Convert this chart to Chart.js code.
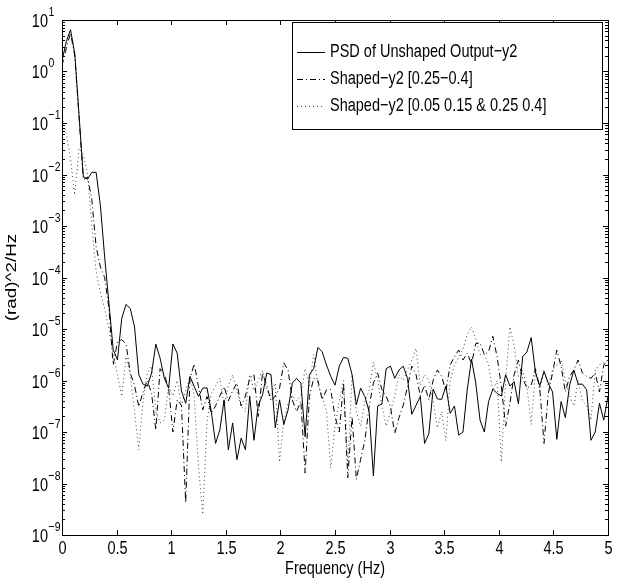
<!DOCTYPE html>
<html>
<head>
<meta charset="utf-8">
<script src="https://cdn.jsdelivr.net/npm/chart.js@4/dist/chart.umd.min.js"></script>
<style>
  html, body { margin: 0; padding: 0; background: #fff; }
  #wrap { width: 621px; height: 586px; position: relative; }
</style>
</head>
<body>
<div id="wrap"><canvas id="psdChart" width="621" height="586"></canvas></div>
<script>
// frequency bins (Hz): 129 uniform FFT bins from 0 to 5 Hz
const freqHz = Array.from({ length: 129 }, (_, i) => i * 5 / 128);

const xTicks = [0, 0.5, 1, 1.5, 2, 2.5, 3, 3.5, 4, 4.5, 5];
const xTickLabels = ['0', '0.5', '1', '1.5', '2', '2.5', '3', '3.5', '4', '4.5', '5'];
const yDecades = [-9, -8, -7, -6, -5, -4, -3, -2, -1, 0, 1];

const seriesNames = [
  'PSD of Unshaped Output\u2212y2',
  'Shaped\u2212y2 [0.25\u22120.4]',
  'Shaped\u2212y2 [0.05 0.15 & 0.25 0.4]'
];

// PSD of unshaped output
const unshaped = [
  1.6, 3.8, 6.5, 2.2, 0.14, 9.1e-3, 8.1e-3, 1.1e-2, 1.1e-2, 2.5e-3,
  2.5e-4, 3.2e-5, 4.0e-6, 2.5e-6, 1.6e-5, 3.0e-5, 2.5e-5, 1.1e-5, 1.3e-6, 8.5e-7,
  7.8e-7, 1.4e-6, 5.1e-6, 2.7e-6, 1.1e-6, 7.1e-7, 5.1e-6, 3.4e-6, 6.3e-7, 3.6e-7,
  1.2e-6, 7.6e-7, 4.9e-7, 7.1e-7, 7.2e-7, 2.5e-7, 6.0e-8, 1.1e-7, 4.2e-7, 4.5e-8,
  1.5e-7, 2.9e-8, 7.6e-8, 4.5e-8, 5.0e-7, 6.9e-8, 3.3e-7, 5.2e-7, 1.4e-6, 1.3e-6,
  1.2e-7, 4.2e-7, 1.4e-7, 2.7e-7, 8.9e-7, 1.1e-6, 8.9e-7, 8.1e-8, 1.3e-6, 1.7e-6,
  4.4e-6, 3.6e-6, 2.0e-6, 1.2e-6, 8.1e-7, 1.9e-6, 2.8e-6, 2.7e-6, 1.3e-6, 3.4e-7,
  7.1e-7, 4.9e-7, 2.5e-7, 1.4e-8, 3.2e-7, 3.5e-7, 1.7e-6, 1.9e-6, 1.1e-6, 1.6e-6,
  1.9e-6, 1.1e-6, 2.2e-7, 3.3e-7, 4.9e-7, 6.0e-8, 9.3e-8, 6.8e-7, 4.4e-7, 4.3e-7,
  7.8e-7, 2.3e-7, 3.2e-7, 8.7e-8, 1.0e-7, 6.6e-7, 2.6e-6, 8.9e-7, 1.7e-7, 1.0e-7,
  3.9e-7, 6.8e-7, 5.6e-7, 5.0e-7, 1.3e-6, 7.8e-7, 9.5e-7, 3.5e-7, 2.9e-6, 3.6e-6,
  6.8e-6, 1.4e-6, 7.9e-7, 1.5e-6, 8.9e-7, 6.0e-7, 7.2e-8, 3.9e-7, 1.9e-7, 8.1e-7,
  1.6e-6, 8.5e-7, 8.5e-7, 6.6e-7, 6.9e-8, 1.0e-7, 3.6e-7, 1.7e-7, 5.0e-7
];

// shaped, band 0.25-0.4
const shapedA = [
  1.3, 2.8, 5.6, 2.0, 0.13, 7.9e-3, 8.9e-3, 3.2e-3, 4.0e-4, 1.6e-4,
  1.0e-4, 2.5e-5, 2.0e-6, 5.6e-6, 6.2e-6, 5.2e-6, 1.4e-6, 8.1e-7, 3.1e-7, 6.0e-7,
  1.0e-6, 5.6e-7, 1.1e-7, 1.7e-6, 1.3e-6, 7.1e-7, 1.0e-7, 4.2e-7, 3.3e-7, 4.2e-9,
  1.1e-6, 2.1e-6, 7.6e-7, 2.7e-7, 4.9e-7, 2.3e-7, 3.2e-7, 5.0e-7, 7.6e-7, 4.0e-7,
  6.3e-7, 8.9e-7, 3.2e-7, 5.0e-7, 1.1e-6, 1.3e-6, 2.0e-7, 1.4e-6, 7.9e-7, 4.0e-7,
  5.0e-7, 7.1e-7, 2.2e-6, 1.6e-6, 4.2e-7, 2.5e-7, 4.0e-7, 1.6e-8, 4.9e-7, 1.1e-6,
  1.0e-6, 4.2e-7, 6.6e-7, 6.6e-7, 2.0e-7, 1.0e-7, 8.9e-7, 1.3e-8, 2.0e-7, 1.2e-8,
  2.9e-8, 6.9e-8, 3.1e-7, 8.9e-7, 1.4e-6, 6.6e-7, 4.9e-7, 3.1e-7, 9.3e-8, 1.9e-7,
  3.3e-7, 7.6e-7, 1.9e-6, 1.3e-6, 5.0e-7, 8.1e-7, 4.2e-7, 1.0e-6, 1.6e-6, 1.2e-6,
  6.3e-7, 2.0e-6, 2.9e-6, 3.9e-6, 2.5e-6, 3.4e-6, 2.1e-6, 5.2e-6, 5.4e-6, 3.2e-6,
  3.6e-6, 7.2e-6, 2.9e-6, 7.6e-7, 1.3e-7, 3.6e-7, 1.3e-6, 2.5e-6, 1.1e-6, 7.1e-7,
  8.1e-7, 1.7e-6, 7.1e-7, 6.0e-8, 5.6e-7, 1.4e-6, 3.9e-6, 1.9e-6, 6.0e-7, 1.2e-6,
  1.6e-6, 2.5e-6, 1.4e-6, 1.2e-6, 1.1e-6, 1.4e-6, 6.0e-7, 2.0e-6, 2.5e-6
];

// shaped, bands 0.05-0.15 and 0.25-0.4
const shapedB = [
  0.13, 0.063, 0.02, 4.0e-3, 0.032, 0.025, 0.01, 1.0e-3, 1.3e-4, 5.0e-5,
  2.5e-5, 1.0e-5, 3.2e-6, 1.3e-6, 4.9e-7, 2.9e-6, 1.3e-6, 2.5e-7, 4.5e-8, 4.0e-7,
  1.4e-6, 1.9e-6, 2.5e-7, 1.5e-7, 1.7e-7, 7.9e-7, 5.0e-7, 1.0e-6, 3.2e-7, 6.3e-7,
  1.2e-6, 5.0e-7, 2.1e-8, 2.5e-9, 1.6e-7, 5.6e-7, 7.9e-7, 1.1e-6, 3.2e-7, 7.9e-7,
  1.3e-6, 6.3e-7, 3.2e-7, 2.5e-7, 1.3e-6, 6.3e-7, 1.0e-6, 1.6e-6, 6.3e-7, 5.0e-7,
  8.9e-7, 2.6e-8, 1.6e-7, 3.6e-7, 5.0e-7, 4.0e-7, 5.0e-7, 1.7e-6, 7.9e-7, 3.2e-6,
  7.9e-7, 5.0e-7, 2.5e-7, 2.0e-8, 1.3e-7, 4.0e-7, 1.0e-6, 2.1e-8, 1.3e-6, 2.5e-7,
  1.3e-7, 4.0e-7, 6.3e-7, 2.3e-6, 1.0e-6, 3.2e-7, 1.3e-7, 2.5e-7, 5.0e-7, 1.3e-6,
  1.0e-6, 1.6e-6, 2.5e-6, 4.2e-6, 7.9e-7, 1.3e-6, 1.0e-6, 4.0e-7, 1.2e-7, 2.5e-7,
  6.8e-8, 1.0e-6, 2.0e-6, 2.8e-6, 4.0e-6, 7.9e-6, 1.1e-5, 6.3e-6, 3.2e-6, 3.2e-6,
  2.0e-6, 6.3e-7, 1.0e-6, 2.6e-8, 1.0e-6, 1.1e-5, 4.6e-6, 1.2e-6, 1.6e-6, 7.6e-7,
  1.4e-7, 1.6e-6, 6.3e-7, 1.6e-6, 7.9e-7, 1.6e-6, 2.0e-6, 2.5e-6, 1.0e-6, 5.0e-7,
  3.2e-7, 1.0e-6, 4.0e-7, 3.2e-7, 1.7e-7, 1.6e-6, 2.0e-6, 2.2e-6, 2.5e-6
];

const FONT = '"Liberation Sans", Arial, Helvetica, sans-serif';
const STRETCH = 1.3; // the reference text is drawn tall and narrow

function txt(ctx, s, x, y, size, align, rot) {
  ctx.save();
  ctx.translate(x, y);
  ctx.scale(1, STRETCH);
  if (rot) ctx.rotate(rot);
  ctx.font = size + 'px ' + FONT;
  ctx.textAlign = align;
  ctx.textBaseline = 'middle';
  ctx.fillStyle = '#000';
  ctx.fillText(s, 0, 0);
  ctx.restore();
}

const dashStyles = [[], [6, 3, 1, 3], [1, 3]];
const lineColors = ['#000', '#000', '#444'];

const toPoints = arr => arr.map((v, i) => ({ x: freqHz[i], y: v }));

const matlabAxes = {
  id: 'matlabAxes',
  afterDatasetsDraw(chart) {
    const ctx = chart.ctx;
    const a = chart.chartArea;
    const xs = chart.scales.x, ys = chart.scales.y;
    ctx.save();
    ctx.strokeStyle = '#000';
    ctx.lineWidth = 1;
    ctx.setLineDash([]);

    // x ticks (inward, top and bottom) + labels
    xTicks.forEach((v, i) => {
      const px = Math.round(xs.getPixelForValue(v)) + 0.5;
      ctx.beginPath();
      ctx.moveTo(px, a.bottom); ctx.lineTo(px, a.bottom - 5);
      ctx.moveTo(px, a.top); ctx.lineTo(px, a.top + 5);
      ctx.stroke();
      txt(ctx, xTickLabels[i], px, a.bottom + 14, 14.5, 'center');
    });

    // y ticks, decades and minors
    yDecades.forEach(e => {
      const py = Math.round(ys.getPixelForValue(Math.pow(10, e))) + 0.5;
      ctx.beginPath();
      ctx.moveTo(a.left, py); ctx.lineTo(a.left + 5, py);
      ctx.moveTo(a.right, py); ctx.lineTo(a.right - 5, py);
      ctx.stroke();
      if (e < 1) {
        for (let m = 2; m <= 9; m++) {
          const pm = Math.round(ys.getPixelForValue(m * Math.pow(10, e))) + 0.5;
          ctx.beginPath();
          ctx.moveTo(a.left, pm); ctx.lineTo(a.left + 3, pm);
          ctx.moveTo(a.right, pm); ctx.lineTo(a.right - 3, pm);
          ctx.stroke();
        }
      }
      const expo = e < 0 ? '\u2212' + (-e) : String(e);
      txt(ctx, '10', 48, py + 1, 14.5, 'right');
      txt(ctx, expo, 48.5, py - 8, 10.5, 'left');
    });

    // box
    ctx.strokeRect(Math.round(a.left) + 0.5, Math.round(a.top) + 0.5,
      Math.round(a.right - a.left), Math.round(a.bottom - a.top));

    // axis titles
    txt(ctx, 'Frequency (Hz)', (a.left + a.right) / 2, a.bottom + 34, 14.5, 'center');
    txt(ctx, '(rad)^2/Hz', 12, (a.top + a.bottom) / 2, 14.5, 'center', -Math.PI / 2);

    // legend
    const lx = 292.5, ly = 22.5, lw = 310, lh = 107;
    ctx.fillStyle = '#fff';
    ctx.fillRect(lx, ly, lw, lh);
    ctx.strokeRect(lx, ly, lw, lh);
    const rows = [52, 79, 106];
    seriesNames.forEach((name, i) => {
      ctx.strokeStyle = lineColors[i];
      ctx.setLineDash(dashStyles[i]);
      ctx.beginPath();
      ctx.moveTo(297, rows[i] + 0.5); ctx.lineTo(325, rows[i] + 0.5);
      ctx.stroke();
      txt(ctx, name, 330, rows[i], 14.5, 'left');
    });
    ctx.restore();
  }
};

new Chart(document.getElementById('psdChart').getContext('2d'), {
  type: 'line',
  data: {
    datasets: [unshaped, shapedA, shapedB].map((arr, i) => ({
      label: seriesNames[i],
      data: toPoints(arr),
      borderColor: lineColors[i],
      borderWidth: 1,
      borderDash: dashStyles[i],
      pointRadius: 0,
      tension: 0,
      fill: false
    }))
  },
  options: {
    responsive: false,
    animation: false,
    events: [],
    layout: { padding: { left: 62, right: 13, top: 20, bottom: 51 } },
    plugins: { legend: { display: false }, tooltip: { enabled: false } },
    scales: {
      x: { type: 'linear', min: 0, max: 5, display: false },
      y: { type: 'logarithmic', min: 1e-9, max: 10, display: false }
    }
  },
  plugins: [matlabAxes, {
    id: 'whiteBg',
    beforeDraw(chart) {
      const c = chart.ctx;
      c.save();
      c.fillStyle = '#fff';
      c.fillRect(0, 0, chart.width, chart.height);
      c.restore();
    }
  }]
});
</script>
</body>
</html>
